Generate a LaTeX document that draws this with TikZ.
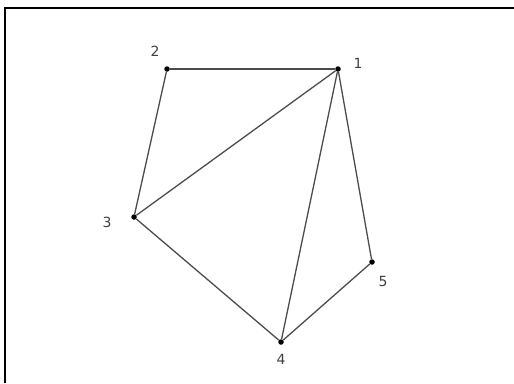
\documentclass[tikz,border=0pt]{standalone}
\usepackage{fontspec}
\setsansfont{DejaVu Sans}
\usepackage{tikz}
\usetikzlibrary{positioning}

\begin{document}
\begin{tikzpicture}[x=1pt,y=-1pt,
		vertex/.style={circle,fill=black,inner sep=0pt,minimum size=5.5pt},
		vlabel/.style={font=\sffamily\fontsize{14}{14}\selectfont,text=black!75},
		edge/.style={draw=black!70,line width=1.3pt}]
		\useasboundingbox (0,0) rectangle (514,383);
		% frame (only top and left edges show)
		\draw[line width=2pt] (5,383) -- (5,8) -- (514,8);
		% vertices
		\node[vertex] (v1) at (338,69) {};
		\node[vertex] (v2) at (167,69) {};
		\node[vertex] (v3) at (134,217) {};
		\node[vertex] (v4) at (281,342) {};
		\node[vertex] (v5) at (372,262) {};
		\node[vlabel] (l1) at (358,63) {1};
		\node[vlabel] (l2) at (155,51) {2};
		\node[vlabel] (l3) at (107,222) {3};
		\node[vlabel] (l4) at (281,359) {4};
		\node[vlabel] (l5) at (383,281) {5};
		% edges
		\foreach \a/\b in {v2/v1,v2/v3,v3/v1,v1/v4,v1/v5,v3/v4,v4/v5}{\draw[edge] (\a) -- (\b);}
	\end{tikzpicture}
\end{document}
